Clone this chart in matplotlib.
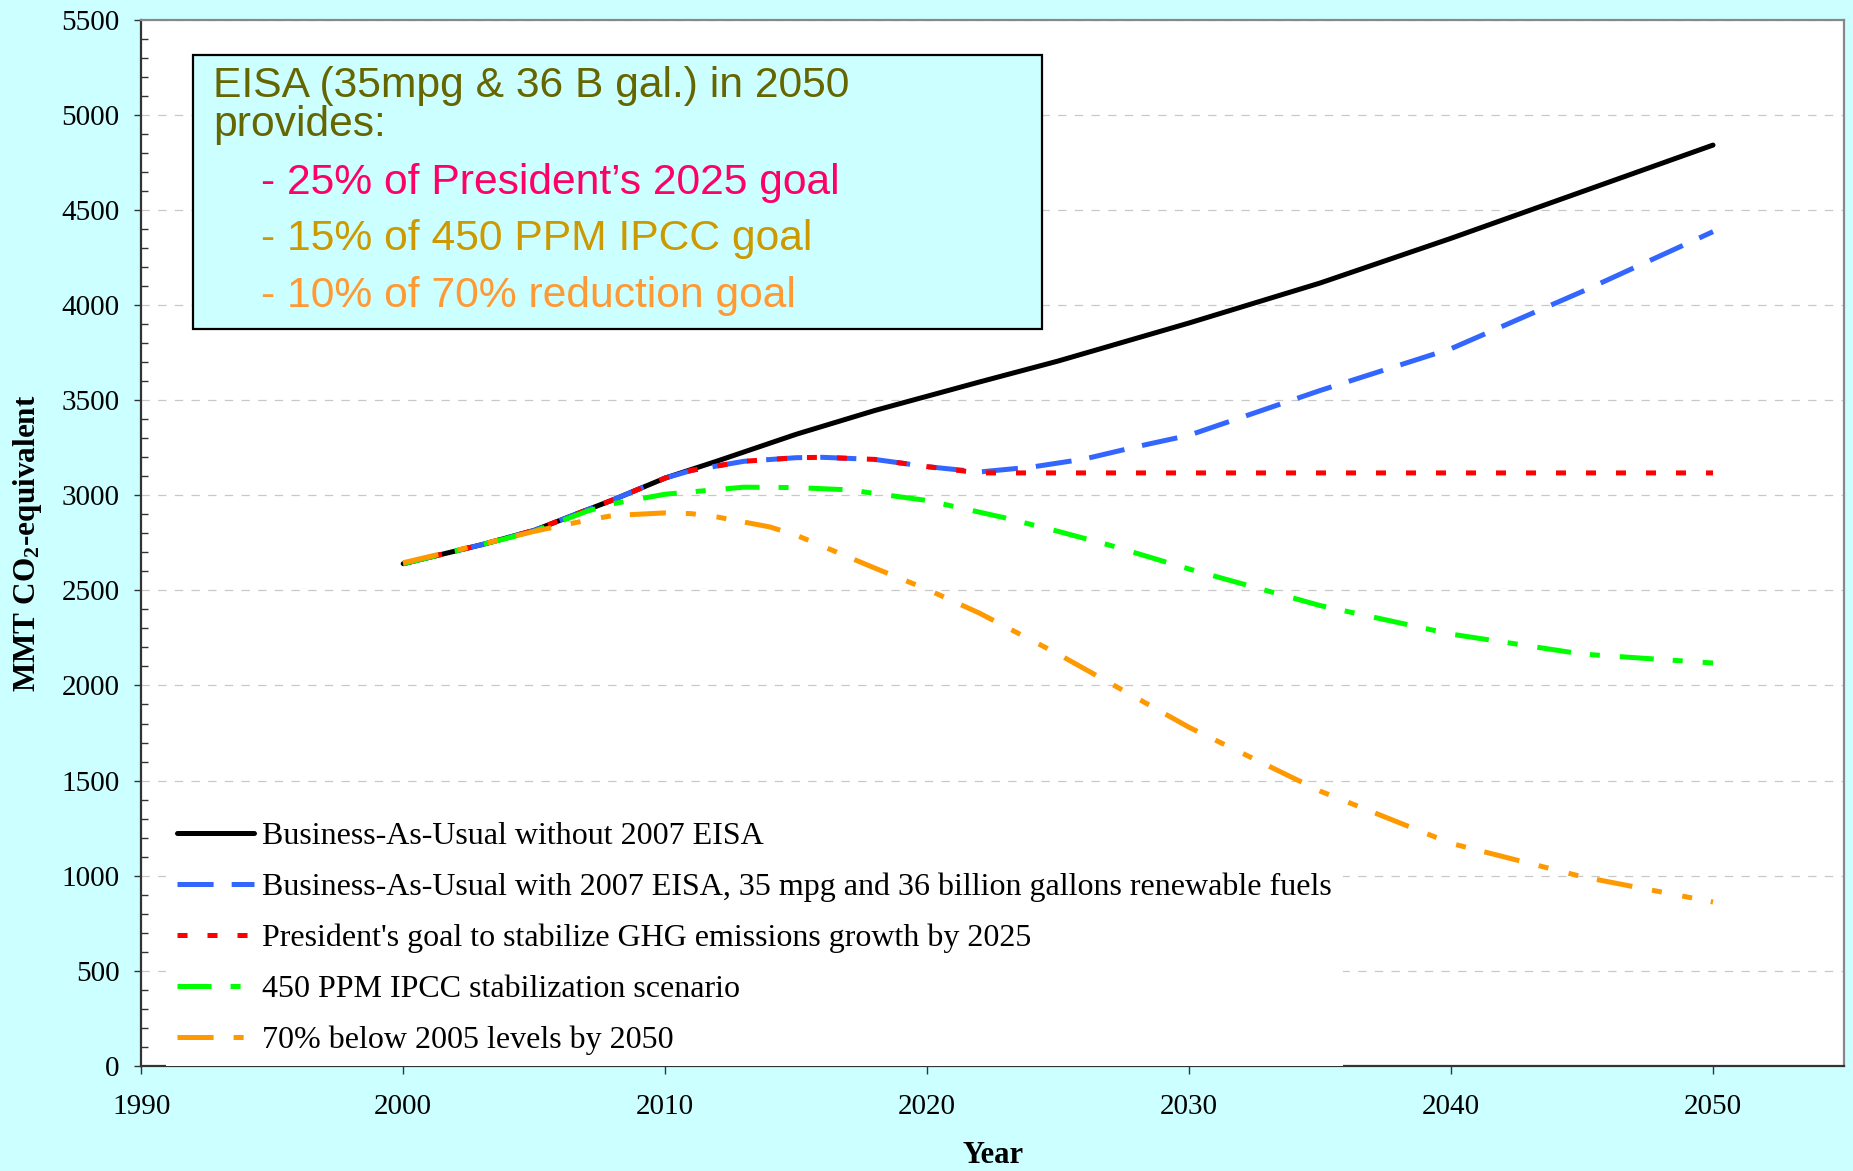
import matplotlib
matplotlib.use("Agg")
import matplotlib.pyplot as plt
from matplotlib.patches import Rectangle
from matplotlib.ticker import MultipleLocator

# ---------------- data ----------------
years_bau = [2000, 2003, 2005, 2008, 2010, 2012, 2015, 2018, 2020, 2022, 2025, 2030, 2035, 2040, 2045, 2050]
bau = [2640, 2740, 2815, 2975, 3090, 3180, 3320, 3445, 3520, 3595, 3705, 3905, 4115, 4350, 4595, 4840]

years_eisa = [2000, 2003, 2005, 2008, 2010, 2011, 2013, 2015, 2016, 2018, 2020, 2022, 2024, 2026, 2028, 2030, 2035, 2040, 2045, 2050]
eisa = [2640, 2740, 2815, 2975, 3090, 3130, 3178, 3197, 3199, 3188, 3150, 3122, 3148, 3190, 3255, 3315, 3550, 3770, 4070, 4385]

years_pres = [2000, 2003, 2005, 2008, 2010, 2011, 2013, 2015, 2016, 2018, 2020, 2022, 2030, 2040, 2050]
pres = [2640, 2740, 2815, 2975, 3090, 3130, 3178, 3197, 3199, 3188, 3150, 3117, 3117, 3117, 3117]

years_ipcc = [2000, 2003, 2005, 2007, 2008, 2010, 2013, 2015, 2017, 2020, 2023, 2025, 2027, 2030, 2035, 2040, 2045, 2050]
ipcc = [2640, 2740, 2810, 2915, 2955, 3005, 3042, 3040, 3028, 2972, 2880, 2810, 2736, 2612, 2420, 2270, 2165, 2118]

years_70 = [2000, 2003, 2005, 2007, 2008, 2010, 2011, 2012, 2014, 2015, 2018, 2020, 2022, 2025, 2030, 2035, 2040, 2045, 2050]
cut70 = [2645, 2742, 2810, 2868, 2893, 2907, 2903, 2885, 2833, 2790, 2617, 2505, 2380, 2165, 1780, 1445, 1170, 995, 862]

labels = [
    "Business-As-Usual without 2007 EISA",
    "Business-As-Usual with 2007 EISA, 35 mpg and 36 billion gallons renewable fuels",
    "President's goal to stabilize GHG emissions growth by 2025",
    "450 PPM IPCC stabilization scenario",
    "70% below 2005 levels by 2050",
]
x_ticks = [1990, 2000, 2010, 2020, 2030, 2040, 2050]
box_lines = [
    "EISA (35mpg & 36 B gal.) in 2050",
    "provides:",
    "- 25% of President\u2019s 2025 goal",
    "- 15% of 450 PPM IPCC goal",
    "- 10% of 70% reduction goal",
]

# ---------------- style ----------------
plt.rcParams['lines.scale_dashes'] = False
plt.rcParams['mathtext.default'] = 'regular'
SERIF = 'Liberation Serif'
SANS = 'Liberation Sans'
BG = '#CCFFFF'

W, H = 1853, 1171
fig = plt.figure(figsize=(W / 100, H / 100), dpi=100, facecolor=BG)

def fx(px):
    return px / W

def fy(py):
    return 1 - py / H

ax_l, ax_r, ax_t, ax_b = 141.2, 1844, 19.5, 1066
ax = fig.add_axes([fx(ax_l), fy(ax_b), fx(ax_r - ax_l), (ax_b - ax_t) / H])
ax.set_facecolor('white')

lw = 3.6
ax.plot(years_bau, bau, color='black', lw=lw, solid_capstyle='round', solid_joinstyle='round',
        zorder=3, label=labels[0])
ax.plot(years_eisa, eisa, color='#3366FF', lw=lw, dashes=(26, 13), zorder=4, label=labels[1])
ax.plot(years_pres, pres, color='#FF0000', lw=lw, dashes=(7.2, 14.4), zorder=5, label=labels[2])
ax.plot(years_ipcc, ipcc, color='#00FF00', lw=lw, dashes=(24.5, 13.7, 7.2, 14.4), zorder=6, label=labels[3])
ax.plot(years_70, cut70, color='#FF9900', lw=lw, dashes=(26, 14.4, 7.2, 15, 7.2, 13.7), zorder=7, label=labels[4])

ax.set_xlim(1990, 2055)
ax.set_ylim(0, 5500)
ax.set_xticks(x_ticks)
ax.yaxis.set_major_locator(MultipleLocator(500))
ax.yaxis.set_minor_locator(MultipleLocator(100))

ax.yaxis.grid(True, which='major', color='#C8C8C8', linestyle=(0, (6, 6)), lw=0.9)
ax.set_axisbelow(True)

for s in ['left', 'bottom']:
    ax.spines[s].set_color('#333333')
    ax.spines[s].set_linewidth(1.6)
for s in ['top', 'right']:
    ax.spines[s].set_color('#888888')
    ax.spines[s].set_linewidth(1.6)

ax.tick_params(axis='y', which='major', direction='out', length=5, width=1, color='#333333', pad=10.5)
ax.tick_params(axis='y', which='minor', direction='in', length=5, width=1, color='#333333')
ax.tick_params(axis='x', which='major', direction='out', length=6, width=1, color='#333333', pad=14)
for lab in ax.get_xticklabels() + ax.get_yticklabels():
    lab.set_fontfamily(SERIF)
    lab.set_fontsize(21)

# axis labels
fig.text(fx(28), fy(543), 'MMT CO$_\\mathregular{2}$-equivalent', rotation=90,
         ha='center', va='center', family=SERIF, fontweight='bold', fontsize=22.5)
fig.text(fx(992.6), fy(1163), 'Year', ha='center', va='baseline',
         family=SERIF, fontweight='bold', fontsize=22)

# legend
leg = ax.legend(loc='lower left', bbox_to_anchor=((166 - ax_l) / (ax_r - ax_l), 0.0),
                prop={'family': SERIF, 'size': 23}, frameon=True, fancybox=False,
                facecolor='white', edgecolor='none', framealpha=1.0,
                borderpad=0.35, handlelength=2.4, handletextpad=0.25, labelspacing=0.67,
                borderaxespad=0.0)
leg.set_zorder(10)

# annotation box
fig.add_artist(Rectangle((fx(193), fy(329)), fx(849), (329 - 55) / H, transform=fig.transFigure,
                         facecolor=BG, edgecolor='black', lw=1.6, zorder=5))
box_colors = ['#666600', '#666600', '#FF0066', '#CC9900', '#FF9933']
box_x = [213, 213, 261, 261, 261]
box_base = [97, 136, 194, 250, 307]
for t, c, x, y in zip(box_lines, box_colors, box_x, box_base):
    fig.text(fx(x), fy(y), t, color=c, family=SANS, fontsize=30.7, ha='left', va='baseline', zorder=6)

fig.savefig('out.png', dpi=100, facecolor=BG)
